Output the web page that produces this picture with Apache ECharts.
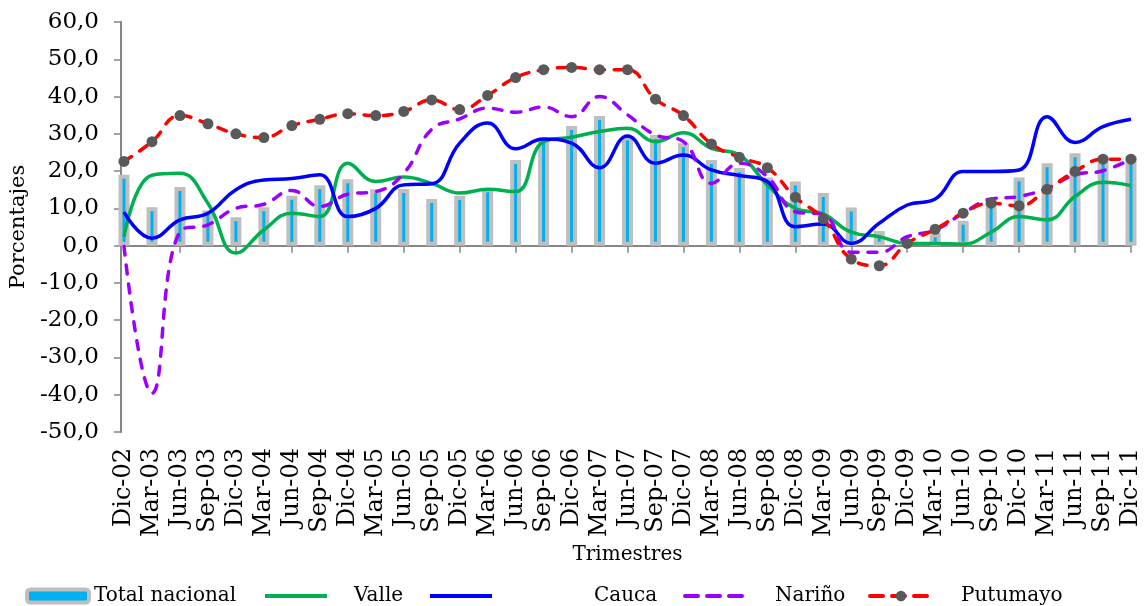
<!DOCTYPE html>
<html>
<head>
<meta charset="utf-8">
<script src="https://cdn.jsdelivr.net/npm/echarts@6/dist/echarts.min.js"></script>
<style>
  html, body { margin: 0; padding: 0; background: #fff; }
  #chart { width: 1144px; height: 606px; }
</style>
</head>
<body>
<div id="chart"></div>
<script>
var categories = ['Dic-02','Mar-03','Jun-03','Sep-03','Dic-03','Mar-04','Jun-04','Sep-04','Dic-04',
  'Mar-05','Jun-05','Sep-05','Dic-05','Mar-06','Jun-06','Sep-06','Dic-06','Mar-07','Jun-07',
  'Sep-07','Dic-07','Mar-08','Jun-08','Sep-08','Dic-08','Mar-09','Jun-09','Sep-09','Dic-09',
  'Mar-10','Jun-10','Sep-10','Dic-10','Mar-11','Jun-11','Sep-11','Dic-11'];

var totalNacional = [19.0,10.3,15.7,9.4,7.6,10.3,13.4,16.2,17.8,15.1,15.2,12.5,13.3,15.4,23.0,28.8,32.1,34.8,29.3,
  29.7,27.5,23.0,20.8,18.3,17.2,14.1,10.2,3.9,0.6,3.3,6.7,12.9,18.3,22.1,24.8,23.9,23.9];
var valle = [2.4,18.9,19.4,11.4,-2.0,4.2,8.7,7.8,22.1,17.2,18.4,16.7,14.1,15.1,14.5,27.9,29.1,30.6,31.5,
  27.9,30.3,26.1,24.3,16.3,10.0,8.5,3.6,2.4,0.6,0.6,0.4,3.6,7.8,6.9,13.2,17.0,16.1];
var cauca = [9.0,2.0,6.9,8.7,15.0,17.6,18.0,19.0,7.8,10.0,16.3,16.6,27.5,32.9,26.0,28.6,27.5,20.9,29.4,
  22.1,24.3,20.3,18.8,17.2,5.1,5.8,0.6,6.0,10.9,12.5,19.9,19.9,20.3,34.6,27.7,31.9,33.9];
var narino = [-0.2,-39.6,3.8,5.6,10.0,11.1,14.8,10.5,13.8,14.5,19.4,31.2,34.0,36.9,35.8,37.2,34.6,40.0,35.1,
  29.7,27.9,16.7,22.1,18.5,9.1,8.3,-1.8,-1.8,2.4,4.2,8.7,12.5,13.2,15.4,19.0,20.1,23.2];
var putumayo = [22.6,27.9,34.9,32.7,30.0,29.0,32.2,33.9,35.4,34.9,36.0,39.1,36.5,40.3,45.1,47.2,47.8,47.2,47.2,
  39.3,34.9,27.3,23.7,20.9,13.0,7.2,-3.6,-5.4,0.6,4.4,8.7,11.4,10.7,15.1,19.9,23.2,23.2];

var fontFam = 'DejaVu Serif';
var axisGray = '#868686';

// one legend per entry so the spacing can follow the original
function legendAt(item, left, gap) {
  return {
    data: [item],
    left: left,
    top: 586,
    padding: 0,
    itemWidth: 62,
    itemHeight: 13,
    textStyle: { fontFamily: fontFam, fontSize: 20, color: '#000', padding: [0, 0, 0, gap] }
  };
}

var option = {
  animation: false,
  backgroundColor: '#fff',
  grid: { left: 120, right: 13, top: 22, bottom: 174 },
  legend: [
    legendAt({ name: 'Total nacional', itemStyle: { color: '#00B0F0', borderColor: '#BFBFBF', borderWidth: 4 } }, 25, 0),
    legendAt({ name: 'Valle', itemStyle: { opacity: 0 }, lineStyle: { width: 4 } }, 263, 22),
    legendAt({ name: 'Cauca', itemStyle: { opacity: 0 }, lineStyle: { width: 4 } }, 428, 97),
    legendAt({ name: 'Nariño', itemStyle: { opacity: 0 }, lineStyle: { width: 4, type: [13, 9] } }, 683, 23),
    legendAt({ name: 'Putumayo', lineStyle: { width: 4, type: [13, 9] } }, 868, 24)
  ],
  xAxis: [
    {
      type: 'category',
      data: categories,
      boundaryGap: false,
      axisLine: { onZero: true, lineStyle: { color: axisGray, width: 2 } },
      axisTick: { show: true, length: 7, lineStyle: { color: axisGray, width: 1.5 } },
      axisLabel: { show: false },
      splitLine: { show: false }
    },
    {
      type: 'category',
      data: categories,
      boundaryGap: false,
      position: 'bottom',
      axisLine: { show: false },
      axisTick: { show: false },
      axisLabel: { rotate: 90, margin: 16, interval: 0, fontFamily: fontFam, fontSize: 24, color: '#000' },
      name: 'Trimestres',
      nameLocation: 'middle',
      nameGap: 111,
      nameTextStyle: { fontFamily: fontFam, fontSize: 20, color: '#000' }
    }
  ],
  yAxis: {
    type: 'value',
    min: -50,
    max: 60,
    interval: 10,
    offset: 3,
    name: 'Porcentajes',
    nameLocation: 'middle',
    nameGap: 92,
    nameTextStyle: { fontFamily: fontFam, fontSize: 21, color: '#000' },
    axisLine: { show: true, lineStyle: { color: axisGray, width: 2 } },
    axisTick: { show: true, length: 7, lineStyle: { color: axisGray, width: 1.5 } },
    axisLabel: {
      margin: 22,
      fontFamily: fontFam,
      fontSize: 23,
      color: '#000',
      formatter: function (v) { return v.toFixed(1).replace('.', ','); }
    },
    splitLine: { show: false }
  },
  series: [
    {
      name: 'Total nacional',
      type: 'bar',
      xAxisIndex: 0,
      data: totalNacional,
      barWidth: 11,
      itemStyle: { color: '#00B0F0', borderColor: '#BFBFBF', borderWidth: 4 },
      z: 1
    },
    {
      name: 'Valle',
      type: 'line',
      data: valle,
      smooth: 0.45,
      symbol: 'none',
      lineStyle: { color: '#00B050', width: 3.5 },
      itemStyle: { color: '#00B050' },
      z: 2
    },
    {
      name: 'Cauca',
      type: 'line',
      data: cauca,
      smooth: 0.45,
      symbol: 'none',
      lineStyle: { color: '#0000FF', width: 3.5 },
      itemStyle: { color: '#0000FF' },
      z: 3
    },
    {
      name: 'Nariño',
      type: 'line',
      data: narino,
      smooth: 0.45,
      symbol: 'none',
      lineStyle: { color: '#9900FF', width: 3.5, type: [9, 10], cap: 'round' },
      itemStyle: { color: '#9900FF' },
      z: 4
    },
    {
      name: 'Putumayo',
      type: 'line',
      data: putumayo,
      smooth: 0.45,
      symbol: 'circle',
      symbolSize: 11,
      lineStyle: { color: '#FF0000', width: 3.5, type: [9, 10], cap: 'round' },
      itemStyle: { color: '#595959' },
      z: 5
    }
  ]
};

var myChart = echarts.init(document.getElementById('chart'));
myChart.setOption(option);
</script>
</body>
</html>
